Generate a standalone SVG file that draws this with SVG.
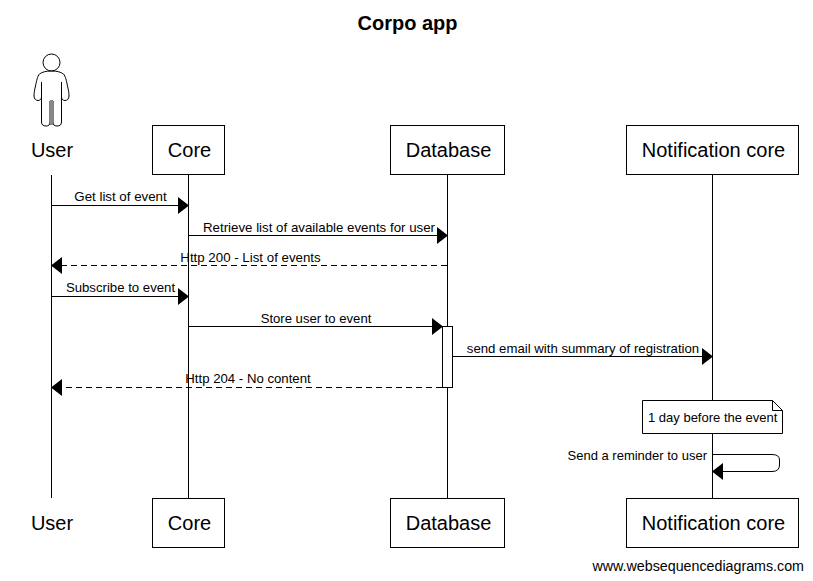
<svg xmlns="http://www.w3.org/2000/svg" width="813" height="581" viewBox="0 0 813 581">
<style>
text{font-family:"Liberation Sans",Arial,sans-serif;fill:#000}
.t{font-size:20px;text-anchor:middle}
.m{font-size:13.300px;text-anchor:middle}
.b{fill:#fff;stroke:#000;stroke-width:1}
.l{fill:none;stroke:#000;stroke-width:1}
.d{fill:none;stroke:#000;stroke-width:1;stroke-dasharray:6 4}
.h{fill:#000;stroke:none}
</style>
<rect width="813" height="581" fill="#fff"/>
<text x="407.500" y="30" font-size="20" font-weight="bold" text-anchor="middle">Corpo app</text>
<g id="connectors">
<path class="l" d="M51.500 175V498M188.500 175V498M447.500 175V498M712.500 175V498"/>
<path class="l" d="M52 205.500H180"/><path class="h" d="M178 197L189 205.500L178 214Z"/>
<text class="m" x="120.500" y="201">Get list of event</text>
<path class="l" d="M189 235.500H439"/><path class="h" d="M437 227L448 235.500L437 244Z"/>
<text class="m" x="319" y="232">Retrieve list of available events for user</text>
<path class="d" d="M447 265.500H60"/><path class="h" d="M62 257L51 265.500L62 274Z"/>
<text class="m" x="250.500" y="262">Http 200 - List of events</text>
<path class="l" d="M52 296.500H180"/><path class="h" d="M178 288L189 296.500L178 305Z"/>
<text class="m" x="120.500" y="292" font-size="13.200" style="font-size:13.200px">Subscribe to event</text>
<path class="l" d="M189 326.500H434"/><path class="h" d="M432 318L443 326.500L432 335Z"/>
<text class="m" x="316" y="323" style="font-size:13.100px">Store user to event</text>
<path class="l" d="M453 356.500H704"/><path class="h" d="M702 348L713 356.500L702 365Z"/>
<text class="m" x="583" y="353" style="font-size:13.200px">send email with summary of registration</text>
<path class="d" d="M442 387.500H60"/><path class="h" d="M62 379L51 387.500L62 396Z"/>
<text class="m" x="248" y="383" style="font-size:13.200px">Http 204 - No content</text>
<path class="l" d="M713 454.500H772Q779.500 454.500 779.500 460V465Q779.500 471.500 772 471.500H721"/><path class="h" d="M723 463L712 471.500L723 480Z"/>
<text x="707" y="460" font-size="13" text-anchor="end">Send a reminder to user</text>
</g>
<g id="activation"><rect class="b" x="442.500" y="326.500" width="10" height="61"/></g>
<g id="note"><path class="b" d="M642.500 400.500H772.500L782.500 410.500V433.500H642.500Z"/><path class="l" d="M772.500 400.500V410.500H782.500"/>
<text x="648" y="422" font-size="13">1 day before the event</text></g>
<g id="user-top">
<path class="l" d="M51.500 71C46 71 42 72 39.500 74C37.500 76 36.500 81 35.500 86C34.500 90 34 93 34 96C34 99 36 100.500 38 100.500C40 100.500 41.500 99 41.500 97V82V122C41.500 125 43.500 126 46 126C48.500 126 50 125 50 122V101H53V122C53 125 54.500 126 57 126C59.500 126 61.500 125 61.500 122V82V97C61.500 99 63 100.500 65 100.500C67 100.500 69 99 69 96C69 93 68.500 90 67.500 86C66.500 81 65.500 76 63.500 74C61 72 57 71 51.500 71Z"/>
<rect x="50" y="101" width="3" height="24" fill="#888"/>
<circle class="l" cx="51.500" cy="62.500" r="8.500"/>
<text class="t" x="52" y="156.500">User</text></g>
<g id="user-bottom"><text class="t" x="52" y="529.500">User</text></g>
<g id="core-top"><rect class="b" x="152.500" y="125.500" width="72" height="49"/><text class="t" x="189.500" y="156.500">Core</text></g>
<g id="database-top"><rect class="b" x="390.500" y="125.500" width="114" height="49"/><text class="t" x="448.500" y="156.500">Database</text></g>
<g id="notification-top"><rect class="b" x="626.500" y="125.500" width="172" height="49"/><text class="t" x="713.500" y="156.500">Notification core</text></g>
<g id="core-bottom"><rect class="b" x="152.500" y="498.500" width="72" height="49"/><text class="t" x="189.500" y="529.500">Core</text></g>
<g id="database-bottom"><rect class="b" x="390.500" y="498.500" width="114" height="49"/><text class="t" x="448.500" y="529.500">Database</text></g>
<g id="notification-bottom"><rect class="b" x="626.500" y="498.500" width="172" height="49"/><text class="t" x="713.500" y="529.500">Notification core</text></g>
<text x="804" y="571" font-size="14.250" text-anchor="end">www.websequencediagrams.com</text>
</svg>
